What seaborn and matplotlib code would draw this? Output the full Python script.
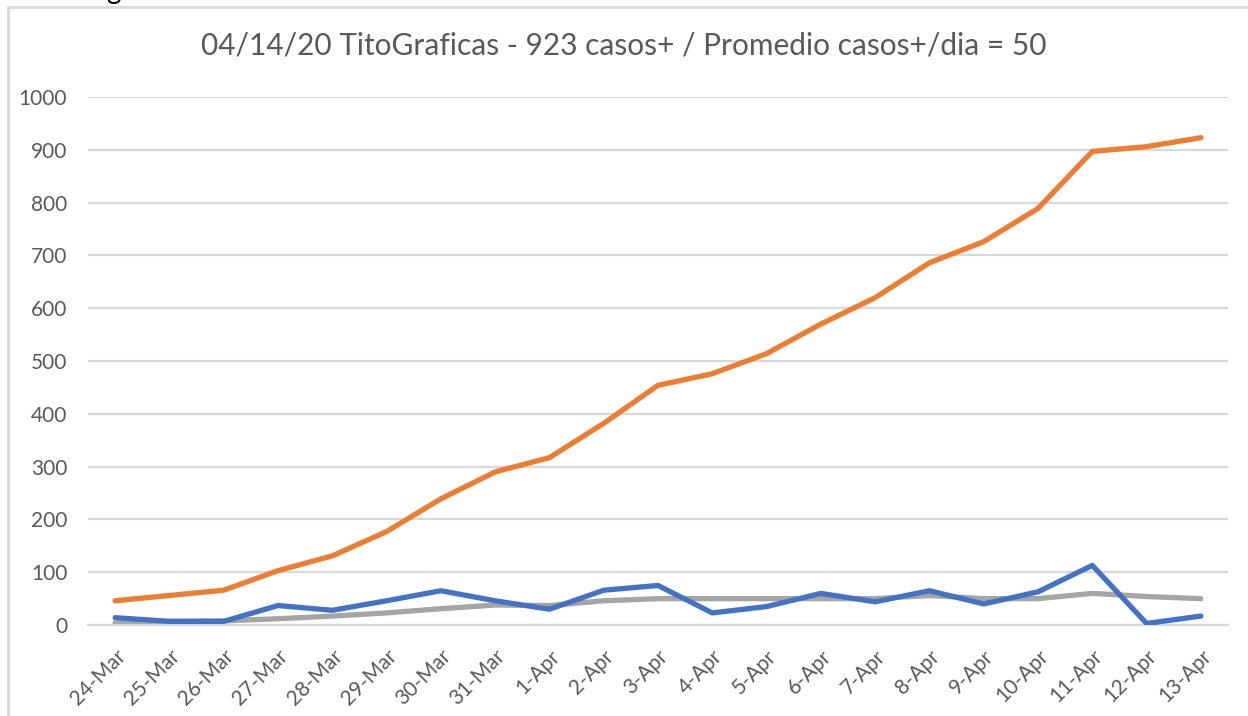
import pandas as pd
import matplotlib
matplotlib.use('Agg')
import matplotlib.pyplot as plt
from matplotlib.lines import Line2D
from matplotlib.ticker import FixedLocator
import seaborn as sns

# Data
fechas = ["24-Mar", "25-Mar", "26-Mar", "27-Mar", "28-Mar", "29-Mar", "30-Mar",
          "31-Mar", "1-Apr", "2-Apr", "3-Apr", "4-Apr", "5-Apr", "6-Apr",
          "7-Apr", "8-Apr", "9-Apr", "10-Apr", "11-Apr", "12-Apr", "13-Apr"]
casos_dia = [14, 7, 7, 37, 28, 46, 65, 46, 30, 66, 75, 23, 35, 60,
             44, 65, 40, 63, 113, 3, 17]
casos_total = [46, 56, 66, 103, 131, 177, 239, 290, 317, 382, 454, 476, 514, 570,
               620, 686, 726, 789, 897, 906, 923]
promedio = [4, 7, 8, 12, 17, 23, 31, 38, 37, 46, 50, 50, 50, 50,
            50, 56, 50, 50, 60, 54, 50]
y_ticks = [0, 100, 200, 300, 400, 500, 600, 700, 800, 900, 1000]

titulo = "04/14/20 TitoGraficas - 923 casos+ / Promedio casos+/dia = 50"

sns.set_style("white")
plt.rcParams['font.family'] = ['Lato', 'DejaVu Sans']

gris_texto = "#595959"
gris_linea = "#D9D9D9"

df = pd.DataFrame({"x": range(len(fechas)), "dia": casos_dia,
                   "total": casos_total, "prom": promedio})

fig = plt.figure(figsize=(12.48, 7.16), dpi=100)
ax = fig.add_axes([0.0705, 0.127, 0.9135, 0.7375])

sns.lineplot(data=df, x="x", y="dia", color="#4472C4", linewidth=3.8, ax=ax, zorder=3)
sns.lineplot(data=df, x="x", y="total", color="#ED7D31", linewidth=3.8, ax=ax, zorder=4)
sns.lineplot(data=df, x="x", y="prom", color="#A5A5A5", linewidth=3.8, ax=ax, zorder=2)

ax.set_xlim(-0.5, len(fechas) - 0.5)
ax.set_ylim(0, 1000)
ax.set_yticks(y_ticks)
ax.set_yticklabels([str(v) for v in y_ticks])
ax.yaxis.grid(True, color=gris_linea, linewidth=1.6)
ax.set_axisbelow(True)

ax.set_xticks(range(len(fechas)))
ax.set_xticklabels(fechas, rotation=45, ha="right", rotation_mode="anchor")
ax.xaxis.set_minor_locator(FixedLocator([i - 0.5 for i in range(len(fechas) + 1)]))
ax.tick_params(axis="x", which="major", length=0, pad=15, labelsize=15, labelcolor=gris_texto)
ax.tick_params(axis="x", which="minor", length=7, width=1.6, color=gris_linea)
ax.tick_params(axis="y", length=0, pad=15, labelsize=15, labelcolor=gris_texto)

ax.set_xlabel("")
ax.set_ylabel("")
for lado in ["top", "right", "left"]:
    ax.spines[lado].set_visible(False)
ax.spines["bottom"].set_color(gris_linea)
ax.spines["bottom"].set_linewidth(1.6)

fig.text(0.5, 0.937, titulo, ha="center", va="center", fontsize=21.5, color=gris_texto)

# marco del grafico (solo borde superior e izquierdo visibles)
fig.add_artist(Line2D([8 / 1248, 1.0], [1 - 7 / 716, 1 - 7 / 716],
                      transform=fig.transFigure, color=gris_linea, linewidth=2))
fig.add_artist(Line2D([8 / 1248, 8 / 1248], [0, 1 - 7 / 716],
                      transform=fig.transFigure, color=gris_linea, linewidth=2))

# texto cortado arriba
fig.text(0.085, 1.012, "g", ha="left", va="center", fontsize=20, color="black")

fig.savefig("out.png", dpi=100)
plt.close(fig)
